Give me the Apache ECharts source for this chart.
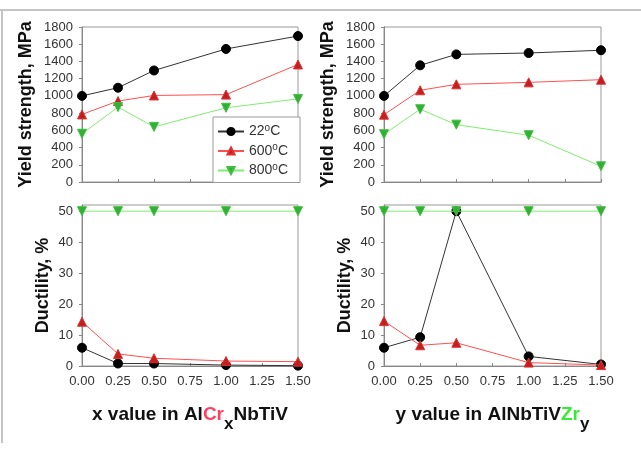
<!DOCTYPE html>
<html>
<head>
<meta charset="utf-8">
<script src="https://cdn.jsdelivr.net/npm/echarts@6/dist/echarts.min.js"></script>
<style>
html,body{margin:0;padding:0;background:#fff;}
#chart{width:641px;height:452px;}
</style>
</head>
<body>
<div id="chart"></div>
<script>
// x positions (same for every panel)
var xVals = [0, 0.25, 0.5, 1.0, 1.5];
var tempNames = ['22°C', '600°C', '800°C'];

// AlCrxNbTiV
var crYield22 = [1000, 1095, 1295, 1545, 1695];
var crYield600 = [785, 940, 1005, 1015, 1365];
var crYield800 = [560, 870, 640, 862, 965];
var crDuct22 = [5.9, 0.8, 0.8, 0.3, 0.1];
var crDuct600 = [14.3, 3.9, 2.5, 1.6, 1.4];
var crDuct800 = [50, 50, 50, 50, 50];

// AlNbTiVZry
var zrYield22 = [1000, 1355, 1482, 1498, 1530];
var zrYield600 = [782, 1065, 1134, 1157, 1188];
var zrYield800 = [555, 845, 666, 543, 182];
var zrDuct22 = [5.9, 9.3, 50, 3.1, 0.5];
var zrDuct600 = [14.5, 6.7, 7.5, 1.1, 0.3];
var zrDuct800 = [50, 50, 50, 50, 50];

var font = 'Liberation Sans, Arial, sans-serif';
var chart = echarts.init(document.getElementById('chart'));

function pairs(ys) {
    return xVals.map(function (x, i) { return [x, ys[i]]; });
}

var styles = [
    {line: '#333333', fill: '#000000', border: '#000000', symbol: 'circle', rotate: 0, size: 9},
    {line: '#ff5050', fill: '#c02020', border: '#e03030', symbol: 'triangle', rotate: 0, size: 9},
    {line: '#80ee70', fill: '#33b033', border: '#40c040', symbol: 'triangle', rotate: 180, size: 9}
];

function mkSeries(idx, k, ys) {
    var s = styles[k];
    return {
        name: tempNames[k],
        type: 'line',
        xAxisIndex: idx,
        yAxisIndex: idx,
        data: pairs(ys),
        symbol: s.symbol,
        symbolRotate: s.rotate,
        symbolSize: s.size,
        lineStyle: {color: s.line, width: 1},
        itemStyle: {color: s.fill, borderColor: s.border, borderWidth: 1},
        z: 2 + k,
        animation: false
    };
}

var grids = [
    {left: 82, top: 27, width: 216, height: 155},
    {left: 384, top: 27, width: 217, height: 155},
    {left: 82, top: 205, width: 216, height: 161},
    {left: 384, top: 205, width: 217, height: 161}
];
grids.forEach(function (g) { g.show = true; g.borderColor = '#999'; g.borderWidth = 1; g.backgroundColor = 'transparent'; });

function mkX(i, showLab, name) {
    return {
        type: 'value', gridIndex: i, min: 0, max: 1.5, interval: 0.25,
        axisLine: {lineStyle: {color: '#888'}},
        axisTick: {inside: true, length: 3, lineStyle: {color: '#888'}},
        splitLine: {show: false},
        axisLabel: {show: showLab, color: '#333', fontSize: 13, fontFamily: font, margin: 9,
            formatter: function (v) { return v.toFixed(2); }},
        name: name || '',
        nameLocation: 'middle',
        nameGap: 30,
        nameTextStyle: {
            fontFamily: font, fontWeight: 'bold', fontSize: 19, color: '#111',
            rich: {
                b: {fontFamily: font, fontWeight: 'bold', fontSize: 19, color: '#111'},
                r: {fontFamily: font, fontWeight: 'bold', fontSize: 19, color: '#ff4060'},
                g: {fontFamily: font, fontWeight: 'bold', fontSize: 19, color: '#33ee33'},
                sub: {fontFamily: font, fontWeight: 'bold', fontSize: 17, color: '#111', padding: [20, 0, 0, 0]}
            }
        }
    };
}

function mkY(i, max, interval, name, gap, hideMax) {
    return {
        type: 'value', gridIndex: i, min: 0, max: max, interval: interval,
        axisLine: {show: true, lineStyle: {color: '#888'}},
        axisTick: {show: true, length: 3, lineStyle: {color: '#888'}},
        splitLine: {show: false},
        axisLabel: {color: '#333', fontSize: 13, fontFamily: font, margin: 9, showMaxLabel: !hideMax,
            formatter: function (v) { return String(v); }},
        name: name,
        nameLocation: 'middle',
        nameRotate: 90,
        nameGap: gap,
        nameTextStyle: {fontFamily: font, fontWeight: 'bold', fontSize: 18, color: '#111'}
    };
}

var option = {
    backgroundColor: '#fff',
    animation: false,
    grid: grids,
    xAxis: [
        mkX(0, false),
        mkX(1, false),
        mkX(2, true, '{b|x value in Al}{r|Cr}{sub|x}{b|NbTiV}'),
        mkX(3, true, '{b|y value in AlNbTiV}{g|Zr}{sub|y}')
    ],
    yAxis: [
        mkY(0, 1800, 200, 'Yield strength, MPa', 47, false),
        mkY(1, 1800, 200, 'Yield strength, MPa', 47, false),
        mkY(2, 52, 10, 'Ductility, %', 30, true),
        mkY(3, 52, 10, 'Ductility, %', 30, true)
    ],
    legend: {
        data: tempNames,
        orient: 'vertical',
        left: 213,
        top: 117,
        itemWidth: 26,
        itemHeight: 9,
        itemGap: 4,
        padding: [6, 12, 5, 4],
        borderColor: '#999',
        borderWidth: 1,
        backgroundColor: '#fff',
        selectedMode: false,
        textStyle: {
            fontFamily: font, fontSize: 14, color: '#333',
            rich: {
                n: {fontFamily: font, fontSize: 14, color: '#333'},
                s: {fontFamily: font, fontSize: 10, color: '#333', padding: [0, 0, 7, 0]}
            }
        },
        formatter: function (name) {
            var num = name.replace('°C', '');
            return '{n|' + num + '}{s|o}{n|C}';
        }
    },
    graphic: [
        {type: 'line', shape: {x1: 0, y1: 10, x2: 641, y2: 10}, style: {stroke: '#c4c4c4', lineWidth: 2}, silent: true},
        {type: 'line', shape: {x1: 2, y1: 10, x2: 2, y2: 443}, style: {stroke: '#c4c4c4', lineWidth: 2}, silent: true}
    ],
    series: [
        mkSeries(0, 0, crYield22), mkSeries(0, 1, crYield600), mkSeries(0, 2, crYield800),
        mkSeries(1, 0, zrYield22), mkSeries(1, 1, zrYield600), mkSeries(1, 2, zrYield800),
        mkSeries(2, 0, crDuct22), mkSeries(2, 1, crDuct600), mkSeries(2, 2, crDuct800),
        mkSeries(3, 0, zrDuct22), mkSeries(3, 1, zrDuct600), mkSeries(3, 2, zrDuct800)
    ]
};

chart.setOption(option);
</script>
</body>
</html>
